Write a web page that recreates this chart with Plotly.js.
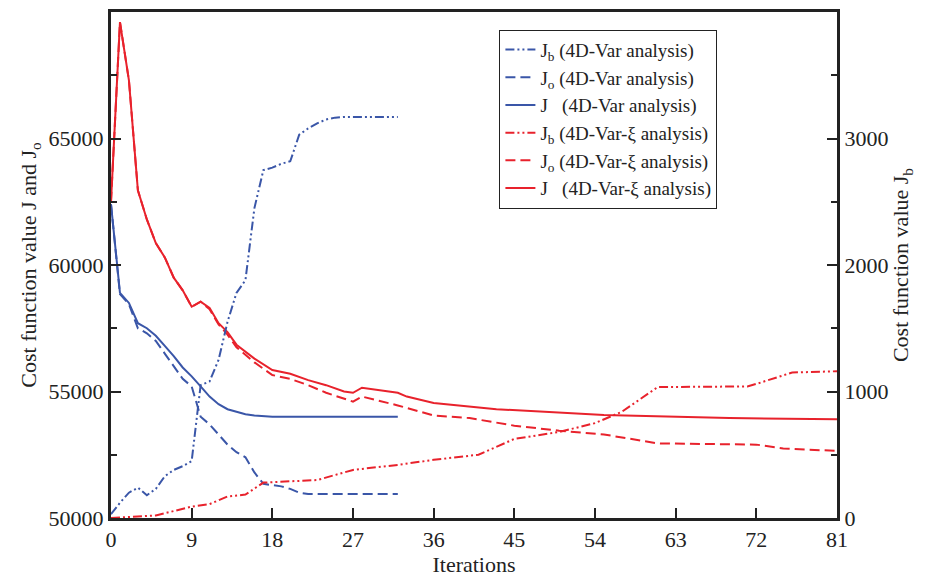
<!DOCTYPE html>
<html>
<head>
<script src="https://cdn.plot.ly/plotly-3.0.1.min.js"></script>
<style>body{margin:0;background:#fff}</style>
</head>
<body>
<div id="chart" style="width:944px;height:581px"></div>
<script>
// 4D-Var analysis (iterations 0..32)
var iterVar = [];
for (var k = 0; k <= 32; k++) iterVar.push(k);
var jVar = [62400, 58900, 58500, 57700, 57500, 57200, 56800, 56400, 55950, 55600, 55200, 54800, 54500, 54300, 54200, 54100, 54050,
  54020, 54000, 54000, 54000, 54000, 54000, 54000, 54000, 54000, 54000, 54000, 54000, 54000, 54000, 54000, 54000];
var joVar = [62400, 58850, 58450, 57500, 57300, 57000, 56500, 56000, 55500, 55200, 54000, 53700, 53300, 52900, 52600, 52400, 51800,
  51350, 51300, 51250, 51150, 51000, 50950, 50950, 50950, 50950, 50950, 50950, 50950, 50950, 50950, 50950, 50950];
var jbVar = [30, 120, 200, 240, 180, 230, 330, 380, 410, 450, 1050, 1080, 1250, 1550, 1780, 1880, 2450,
  2750, 2770, 2800, 2820, 3030, 3080, 3120, 3150, 3165, 3170, 3170, 3170, 3170, 3170, 3170, 3170];

// 4D-Var-xi analysis
var iterXiJ = [0, 1, 2, 3, 4, 5, 6, 7, 8, 9, 10, 11, 12, 13, 14, 16, 18, 20, 22, 24, 26, 27, 28, 32, 33, 36, 43, 55, 69, 81];
var jXi = [62500, 69600, 67300, 62950, 61800, 60870, 60300, 59500, 59000, 58350, 58550, 58300, 57700, 57350, 56850, 56300, 55850,
  55700, 55450, 55250, 55000, 54950, 55150, 54950, 54800, 54550, 54300, 54070, 53950, 53900];
var iterXiJo = [0, 1, 2, 3, 4, 5, 6, 7, 8, 9, 10, 11, 12, 13, 14, 16, 18, 20, 22, 24, 27, 28, 32, 36, 40, 45, 50, 55, 61, 72, 75, 81];
var joXi = [62500, 69600, 67300, 62950, 61800, 60870, 60300, 59500, 59000, 58350, 58550, 58250, 57650, 57250, 56750, 56150, 55650,
  55500, 55250, 54950, 54600, 54800, 54450, 54050, 53950, 53650, 53450, 53300, 52950, 52900, 52750, 52650];
var iterXiJb = [0, 5, 9, 11, 13, 15, 17, 20, 23, 27, 32, 36, 41, 45, 50, 54, 57, 61, 71, 72, 76, 81];
var jbXi = [0, 20, 90, 110, 170, 185, 280, 290, 300, 380, 420, 460, 500, 625, 680, 750, 840, 1035, 1040, 1060, 1150, 1160];

var blue = '#3a56a8';
var red = '#e8222c';
var dashDot2 = '9px,3px,2px,3px,2px,3px';

var data = [
  {x: iterVar, y: jbVar, yaxis: 'y2', name: 'J<sub>b</sub> (4D-Var analysis)', line: {color: blue, width: 2, dash: dashDot2}},
  {x: iterVar, y: joVar, name: 'J<sub>o</sub> (4D-Var analysis)', line: {color: blue, width: 2, dash: '10px,5px'}},
  {x: iterVar, y: jVar, name: 'J   (4D-Var analysis)', line: {color: blue, width: 2}},
  {x: iterXiJb, y: jbXi, yaxis: 'y2', name: 'J<sub>b</sub> (4D-Var-ξ analysis)', line: {color: red, width: 2, dash: dashDot2}},
  {x: iterXiJo, y: joXi, name: 'J<sub>o</sub> (4D-Var-ξ analysis)', line: {color: red, width: 2, dash: '10px,5px'}},
  {x: iterXiJ, y: jXi, name: 'J   (4D-Var-ξ analysis)', line: {color: red, width: 2}}
];
data.forEach(function (d) { d.type = 'scatter'; d.mode = 'lines'; });

var font = {family: 'Liberation Serif, Times New Roman, serif', size: 22, color: '#222'};
var axisCommon = {
  showgrid: false, zeroline: false, showline: true, linecolor: '#222', linewidth: 3,
  ticks: 'inside', ticklen: 10, tickwidth: 2, tickcolor: '#222', tickfont: font
};

var layout = {
  width: 944, height: 581,
  margin: {l: 111, r: 107, t: 12, b: 63},
  paper_bgcolor: '#fff', plot_bgcolor: '#fff',
  font: font,
  showlegend: true,
  legend: {
    x: 0.535, y: 0.965, xanchor: 'left', yanchor: 'top',
    bordercolor: '#222', borderwidth: 1, bgcolor: '#fff',
    font: {family: 'Liberation Serif, serif', size: 19, color: '#222'},
    tracegroupgap: 0
  },
  xaxis: Object.assign({}, axisCommon, {
    range: [0, 81], tick0: 0, dtick: 9, mirror: true,
    title: {text: 'Iterations', font: font, standoff: 0}
  }),
  yaxis: Object.assign({}, axisCommon, {
    range: [50000, 70000], tick0: 50000, dtick: 5000, tickformat: 'd',
    minor: {dtick: 2500, ticks: 'inside', ticklen: 6, tickcolor: '#222'},
    title: {text: 'Cost function value J and J<sub>o</sub>', font: font, standoff: 6}
  }),
  yaxis2: Object.assign({}, axisCommon, {
    overlaying: 'y', side: 'right', range: [0, 4000], tick0: 0, dtick: 1000, tickformat: 'd',
    minor: {dtick: 500, ticks: 'inside', ticklen: 6, tickcolor: '#222'},
    title: {text: 'Cost function value J<sub>b</sub>', font: font, standoff: 6}
  })
};

Plotly.newPlot('chart', data, layout, {displayModeBar: false});
</script>
</body>
</html>
